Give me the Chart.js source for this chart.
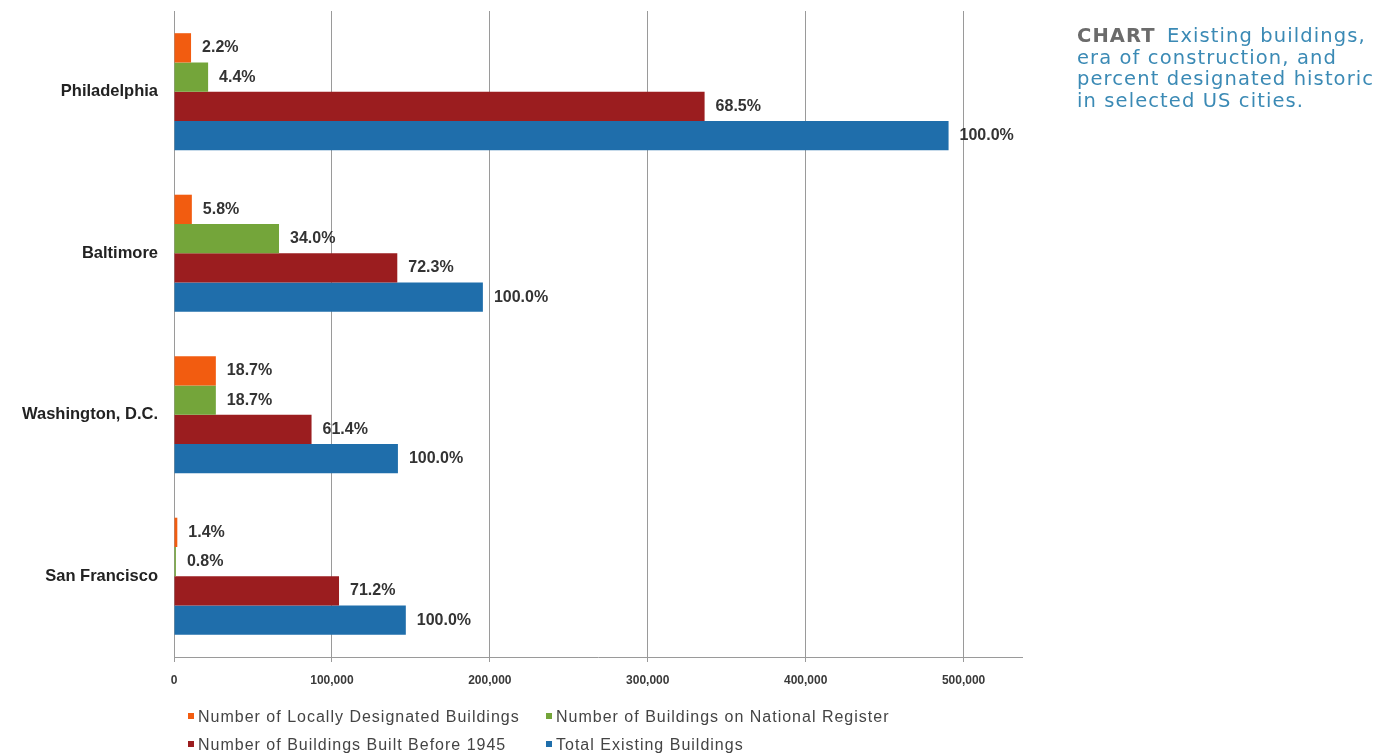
<!DOCTYPE html>
<html>
<head>
<meta charset="utf-8">
<script src="https://cdn.jsdelivr.net/npm/chart.js@4/dist/chart.umd.min.js"></script>
<style>
  html, body { margin: 0; padding: 0; background: #fff; }
  #wrap { position: relative; width: 1384px; height: 755px; }
  #title {
    position: absolute; left: 1077px; top: 25px; width: 310px;
    font-family: "DejaVu Sans", sans-serif; font-size: 19.5px; line-height: 21.7px;
    color: #3b8ab5; letter-spacing: 1.1px; white-space: nowrap;
  }
  #title b { color: #6b6b6b; font-weight: 700; margin-right: 4px; }
  #legend {
    position: absolute; left: 188px; top: 703px;
    display: grid; grid-template-columns: 358px auto;
    font-family: "Liberation Sans", Arial, sans-serif; font-size: 16px;
    letter-spacing: 1px; line-height: 28px; color: #444;
  }
  #legend span.box { display: inline-block; width: 6px; height: 6px; margin-right: 4px; vertical-align: 3px; }
</style>
</head>
<body>
<div id="wrap">
  <canvas id="chart"></canvas>
  <div id="title"><b>CHART</b> Existing buildings,<br>era of construction, and<br>percent designated historic<br>in selected US cities.</div>
  <div id="legend"></div>
</div>
<script>
var cities = ["Philadelphia", "Baltimore", "Washington, D.C.", "San Francisco"];
var seriesNames = [
  "Number of Locally Designated Buildings",
  "Number of Buildings on National Register",
  "Number of Buildings Built Before 1945",
  "Total Existing Buildings"
];
// building counts
var localCount = [10800, 11300, 26500, 2100];
var nationalCount = [21600, 66500, 26500, 1200];
var pre1945Count = [336000, 141400, 87100, 104500];
var totalCount = [490500, 195600, 141800, 146800];
// percent labels printed next to each bar
var localPct = [2.2, 5.8, 18.7, 1.4];
var nationalPct = [4.4, 34.0, 18.7, 0.8];
var pre1945Pct = [68.5, 72.3, 61.4, 71.2];
var totalPct = [100, 100, 100, 100];
var xTicks = [0, 100000, 200000, 300000, 400000, 500000];

var colors = ["#f25c10", "#74a53a", "#9b1d1f", "#1f6eab"];
var counts = [localCount, nationalCount, pre1945Count, totalCount];
var pcts = [localPct, nationalPct, pre1945Pct, totalPct];

Chart.defaults.font.family = '"Liberation Sans", Arial, sans-serif';

var barLabels = {
  id: "barLabels",
  afterDatasetsDraw: function (chart) {
    var ctx = chart.ctx;
    ctx.save();
    ctx.font = "bold 16px 'Liberation Sans', Arial, sans-serif";
    ctx.fillStyle = "#333";
    ctx.textBaseline = "middle";
    ctx.textAlign = "left";
    chart.data.datasets.forEach(function (ds, i) {
      chart.getDatasetMeta(i).data.forEach(function (bar, j) {
        ctx.fillText(pcts[i][j].toFixed(1) + "%", bar.x + 11, bar.y);
      });
    });
    ctx.restore();
  }
};

var ctx = document.getElementById("chart");
var myChart = new Chart(ctx, {
  type: "bar",
  data: {
    labels: cities,
    datasets: seriesNames.map(function (name, i) {
      return {
        label: name,
        data: counts[i],
        backgroundColor: colors[i],
        categoryPercentage: 0.725,
        barPercentage: 1.0
      };
    })
  },
  options: {
    indexAxis: "y",
    responsive: true,
    maintainAspectRatio: false,
    animation: false,
    layout: { padding: { left: 0, right: 362, top: 11, bottom: 58 } },
    plugins: { legend: { display: false }, tooltip: { enabled: false } },
    scales: {
      x: {
        min: 0,
        max: 537000,
        afterBuildTicks: function (axis) {
          axis.ticks = xTicks.map(function (v) { return { value: v }; });
        },
        afterFit: function (axis) { axis.height = 40; },
        grid: { color: "#9a9a9a", lineWidth: 1, tickLength: 5 },
        border: { display: true, color: "#9a9a9a" },
        ticks: {
          padding: 11,
          color: "#3a3a3a",
          font: { size: 12, weight: "bold" },
          callback: function (v) { return v.toLocaleString("en-US"); }
        }
      },
      y: {
        afterFit: function (axis) {
          axis.width = 174;
          axis.paddingTop = 0;
          axis.paddingBottom = 0;
        },
        grid: { display: false },
        border: { display: true, color: "#9a9a9a" },
        ticks: { padding: 8, color: "#222", font: { size: 16.5, weight: "bold" } }
      }
    }
  },
  plugins: [barLabels]
});

// legend in two fixed columns, as in the original
var legendHtml = "";
myChart.data.datasets.forEach(function (ds) {
  legendHtml += '<div><span class="box" style="background:' + ds.backgroundColor + '"></span>' + ds.label + "</div>";
});
document.getElementById("legend").innerHTML = legendHtml;
</script>
</body>
</html>
